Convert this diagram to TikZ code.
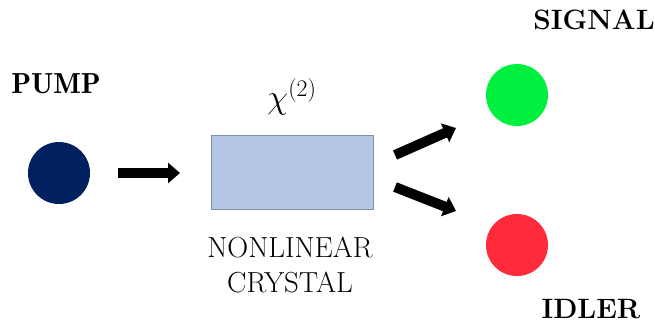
\documentclass[tikz,border=0pt]{standalone}
\usepackage{fix-cm}
\usepackage{fontspec}
\newfontfamily\demifont{Latin Modern Roman Demi}
\usetikzlibrary{arrows.meta}
\definecolor{pumpc}{HTML}{002060}
\definecolor{sigc}{HTML}{00F040}
\definecolor{idlc}{HTML}{FF2A3A}
\definecolor{boxfill}{HTML}{B4C7E7}
\definecolor{boxline}{HTML}{7F8FA8}
\begin{document}
\begin{tikzpicture}[x=1pt,y=-1pt,
  dot/.style={circle,minimum size=62pt,inner sep=0pt},
  lbl/.style={font=\fontsize{28}{32}\selectfont\bfseries},
  txt/.style={font=\fontsize{29}{35}\selectfont,align=center},
  fatarrow/.style={line width=10pt,-{Triangle[length=12pt,width=20pt]}}]
\useasboundingbox (0,0) rectangle (655,327);
\node[dot,fill=pumpc] (pump) at (59,173) {};
\node[font=\fontsize{29}{32}\selectfont\demifont] (pumpl) at (56,84) {PUMP};
\node[draw=boxline,fill=boxfill,minimum width=162pt,minimum height=74pt,inner sep=0pt,line width=0.8pt] (crystal) at (292.5,172) {};
\node[font=\fontsize{34}{40}\selectfont] (chi) at (292,97) {$\chi^{(2)}$};
\node[txt] (crl) at (290,265) {NONLINEAR\\CRYSTAL};
\node[dot,fill=sigc] (signal) at (517,95) {};
\node[dot,fill=idlc] (idler) at (517,245) {};
\node[lbl] (sigl) at (594,20) {SIGNAL};
\node[lbl] (idll) at (591,309) {IDLER};
\coordinate (a1s) at (118,173);
\coordinate (a1e) at (180,173);
\coordinate (a2s) at (395,155);
\coordinate (a2e) at (456,128);
\coordinate (a3s) at (395,187);
\coordinate (a3e) at (456,211);
\draw[fatarrow] (a1s) -- (a1e);
\draw[fatarrow] (a2s) -- (a2e);
\draw[fatarrow] (a3s) -- (a3e);
\end{tikzpicture}
\end{document}
